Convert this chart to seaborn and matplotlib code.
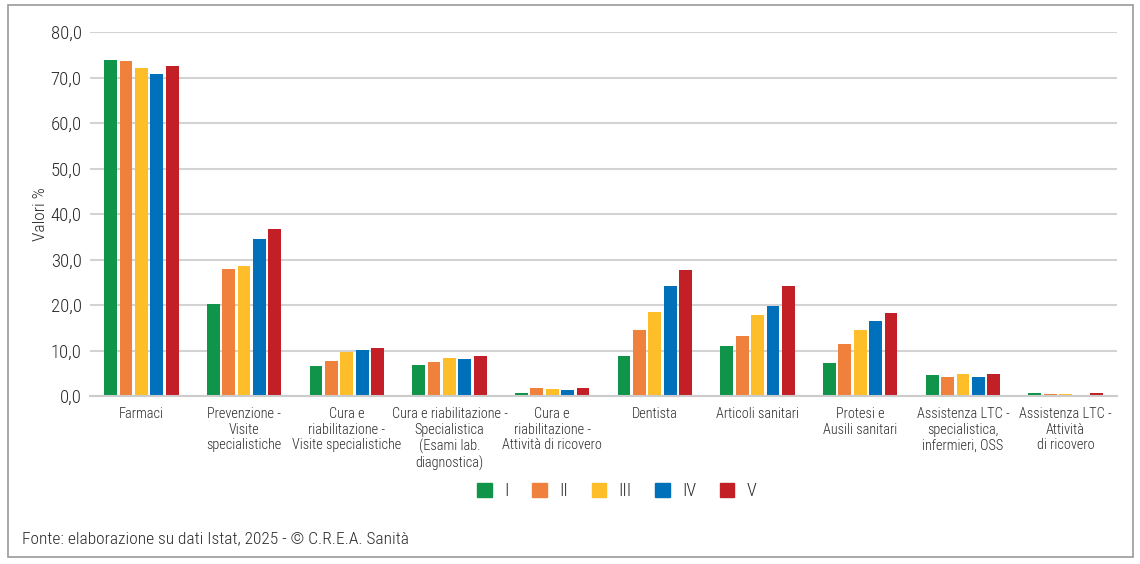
import pandas as pd
import numpy as np
import matplotlib
matplotlib.use("Agg")
import matplotlib.pyplot as plt
import seaborn as sns
from matplotlib.patches import Rectangle
from matplotlib import font_manager

# ------------------ DATA ------------------
categories = [
    "Farmaci",
    "Prevenzione -\nVisite\nspecialistiche",
    "Cura e\nriabilitazione -\nVisite specialistiche",
    "Cura e riabilitazione -\nSpecialistica\n(Esami lab.\ndiagnostica)",
    "Cura e\nriabilitazione -\nAttività di ricovero",
    "Dentista",
    "Articoli sanitari",
    "Protesi e\nAusili sanitari",
    "Assistenza LTC -\nspecialistica,\ninfermieri, OSS",
    "Assistenza LTC -\nAttività\ndi ricovero",
]
quintiles = ["I", "II", "III", "IV", "V"]
q1 = [73.8, 20.2, 6.6, 6.8, 0.6, 8.9, 10.9, 7.2, 4.6, 0.6]
q2 = [73.6, 27.9, 7.7, 7.4, 1.7, 14.4, 13.1, 11.4, 4.2, 0.4]
q3 = [72.1, 28.6, 9.7, 8.3, 1.5, 18.5, 17.8, 14.4, 4.8, 0.4]
q4 = [70.8, 34.5, 10.2, 8.1, 1.3, 24.1, 19.8, 16.4, 4.2, 0.3]
q5 = [72.5, 36.7, 10.5, 8.9, 1.8, 27.8, 24.1, 18.2, 4.8, 0.6]
colors = ["#10944A", "#EF813C", "#FDBE2A", "#0070BB", "#C21F26"]
yticks = [0, 10, 20, 30, 40, 50, 60, 70, 80]
source = "Fonte: elaborazione su dati Istat, 2025 - © C.R.E.A. Sanità"

# ------------------ STYLE ------------------
sns.set_style("white")
names = {f.name for f in font_manager.fontManager.ttflist}
candidates = ["Roboto Condensed", "Archivo Narrow", "PT Sans Narrow", "Liberation Sans Narrow",
              "Fira Sans Condensed", "IBM Plex Sans Condensed", "Encode Sans Condensed",
              "Asap Condensed", "Barlow Semi Condensed", "Open Sans Condensed", "Roboto"]
narrow = next((c for c in candidates if c in names), "DejaVu Sans")
plt.rcParams["font.family"] = [narrow, "DejaVu Sans"]
plt.rcParams["font.weight"] = "light"
plt.rcParams["axes.labelweight"] = "light"
TEXT = "#2a2a2a"

rows = []
for q, vals in zip(quintiles, [q1, q2, q3, q4, q5]):
    for c, v in zip(categories, vals):
        rows.append({"cat": c, "quint": q, "val": v})
df = pd.DataFrame(rows)

# ------------------ PLOT ------------------
fig = plt.figure(figsize=(11.4, 5.64), dpi=100)
ax = fig.add_axes([90 / 1140, 1 - 396 / 564, (1117 - 90) / 1140, (396 - 32) / 564])

sns.barplot(data=df, x="cat", y="val", hue="quint", hue_order=quintiles,
            palette=colors, width=0.75, gap=0.17, ax=ax, legend=False,
            edgecolor="none", saturation=1)

ax.set_ylim(0, 80)
ax.set_xlim(-0.5, len(categories) - 0.5)
ax.set_yticks(yticks)
ax.set_yticklabels([f"{t:.1f}".replace(".", ",") for t in yticks], fontsize=13.5, color=TEXT)
ax.tick_params(axis="y", length=0, pad=6)
ax.tick_params(axis="x", length=0, pad=8)
for lab in ax.get_xticklabels():
    lab.set_fontsize(10.3)
    lab.set_color(TEXT)
    lab.set_linespacing(1.14)
    lab.set_verticalalignment("top")
ax.set_xlabel("")
ax.set_ylabel("Valori %", fontsize=12.5, color=TEXT, labelpad=2, fontweight="light")
ax.grid(axis="y", color="#d3d3d3", linewidth=1.5)
ax.set_axisbelow(True)
for s in ["top", "right", "left"]:
    ax.spines[s].set_visible(False)
ax.spines["bottom"].set_color("#cccccc")
ax.spines["bottom"].set_linewidth(1.5)

# legend
handles = [Rectangle((0, 0), 1, 1, color=c) for c in colors]
fig.legend(handles, quintiles, loc="center", bbox_to_anchor=(617 / 1140, 1 - 491 / 564),
           ncol=5, frameon=False, fontsize=13, handlelength=0.8, handleheight=0.8,
           handletextpad=0.7, columnspacing=1.3, labelcolor=TEXT)

fig.text(22 / 1140, 1 - 539 / 564, source, fontsize=12.5, color=TEXT, va="center", ha="left")

# outer frame
fig.patches.append(Rectangle((8 / 1140, 1 - 557 / 564), (1133 - 8) / 1140, (557 - 5) / 564,
                             transform=fig.transFigure, fill=False, edgecolor="#999999",
                             linewidth=1.2))

fig.savefig("out.png", dpi=100)
